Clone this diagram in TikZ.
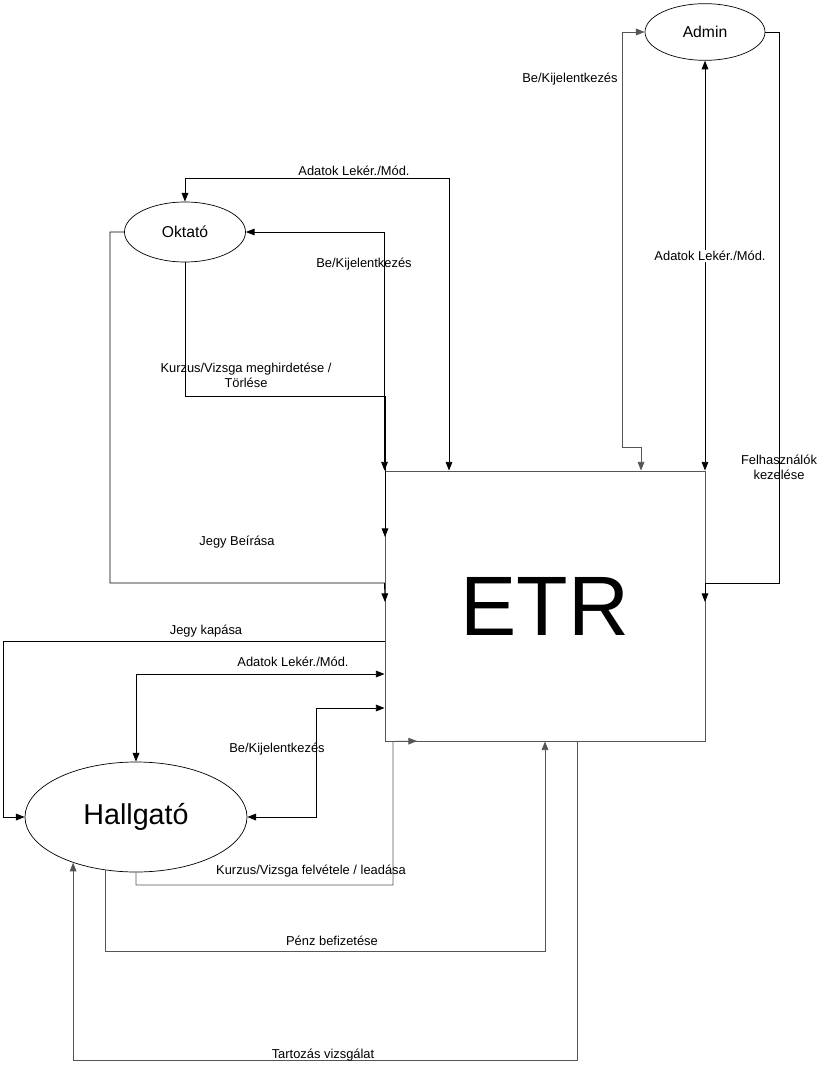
\documentclass[tikz,border=0pt]{standalone}
\usepackage{fontspec}
\setmainfont{Liberation Sans}
\usepackage{tikz}
\usetikzlibrary{shapes.geometric, arrows.meta, positioning, calc}
\definecolor{lineGray}{RGB}{85,85,85}
\tikzset{
  actorNode/.style={draw, ellipse, inner sep=0pt, line width=0.6pt},
  flowLine/.style={line width=0.75pt, -{Triangle[length=2.6mm, width=2mm]}},
  dualLine/.style={line width=0.75pt, {Triangle[length=2.6mm, width=2mm]}-{Triangle[length=2.6mm, width=2mm]}},
  flowLabel/.style={font=\fontsize{11}{12.5}\selectfont, inner sep=1pt, align=center}
}

\begin{document}
\begin{tikzpicture}[x=0.03cm, y=-0.03cm]
    \useasboundingbox (0,0) rectangle (835,1068);

    % System box and actors
    \node[draw=lineGray, line width=0.8pt, minimum width=9.6cm, minimum height=8.1cm, inner sep=0pt, font=\fontsize{72}{72}\selectfont] (etr) at (545,606) {ETR};
    \node[actorNode, minimum width=3.6cm, minimum height=1.7cm, font=\fontsize{13.4}{15}\selectfont] (admin) at (705,32) {Admin};
    \node[actorNode, minimum width=3.63cm, minimum height=1.8cm, font=\fontsize{13.4}{15}\selectfont] (oktato) at (185,232) {Oktató};
    \node[actorNode, minimum width=6.66cm, minimum height=3.3cm, font=\fontsize{24.5}{28}\selectfont] (hallgato) at (136,817) {Hallgató};

    % Bends and end points
    \coordinate (okAdat) at (449,178);
    \coordinate (okKurz) at (385,396);
    \coordinate (okKurzEnd) at (385,537);
    \coordinate (okJegy) at (110,583);
    \coordinate (okJegyEnd) at (385,602);
    \coordinate (adBe) at (622,447);
    \coordinate (adBe2) at (641,447);
    \coordinate (adFelh) at (779,583);
    \coordinate (adFelhEnd) at (705,602);
    \coordinate (haJegy) at (3,641);
    \coordinate (haAdat) at (0,674);
    \coordinate (haBe) at (316,708);
    \coordinate (haKurz) at (393,885);
    \coordinate (haKurzEnd) at (417,741);
    \coordinate (haPenz) at (545,951);
    \coordinate (haTart) at (577,1060);

    % Oktato flows
    \draw[dualLine] (oktato.north) |- (okAdat) -- (okAdat |- etr.north);
    \node[flowLabel] (okAdatLbl) at (354,171) {Adatok Lekér./Mód.};

    \draw[dualLine] (oktato.east) -| (etr.north west);
    \node[flowLabel] (okBeLbl) at (364,264) {Be/Kijelentkezés};

    \draw[flowLine] (oktato.south) |- (okKurz) -- (okKurzEnd);
    \node[flowLabel] (okKurzLbl) at (246,375) {Kurzus/Vizsga meghirdetése /\\Törlése};

    \draw[flowLine] (oktato.west) -| (okJegy) -- (okJegy -| etr.west) -- (okJegyEnd);
    \node[flowLabel] (okJegyLbl) at (237,542) {Jegy Beírása};

    % Admin flows
    \draw[dualLine, lineGray] (admin.west) -| (adBe) -- (adBe2) -- (adBe2 |- etr.north);
    \node[flowLabel, anchor=east] (adBeLbl) at (619,79) {Be/Kijelentkezés};

    \draw[dualLine] (admin.south) -- (admin.south |- etr.north);
    \node[flowLabel, fill=white] (adAdatLbl) at (710,256) {Adatok Lekér./Mód.};

    \draw[flowLine] (admin.east) -| (adFelh) -- (adFelh -| adFelhEnd) -- (adFelhEnd);
    \node[flowLabel] (adFelhLbl) at (779,467) {Felhasználók\\kezelése};

    % Hallgato flows
    \draw[flowLine] (etr.west |- haJegy) -- (haJegy) |- (hallgato.west);
    \node[flowLabel] (haJegyLbl) at (206,631) {Jegy kapása};

    \draw[dualLine] (hallgato.north) |- (etr.west |- haAdat);
    \node[flowLabel] (haAdatLbl) at (293,662) {Adatok Lekér./Mód.};

    \draw[dualLine] (hallgato.east) -| (haBe) -- (etr.west |- haBe);
    \node[flowLabel] (haBeLbl) at (277,749) {Be/Kijelentkezés};

    \draw[flowLine, lineGray] (hallgato.south) |- (haKurz) -- (haKurz |- etr.south) -- (haKurzEnd);
    \node[flowLabel] (haKurzLbl) at (311,871) {Kurzus/Vizsga felvétele / leadása};

    \draw[flowLine, lineGray] (hallgato.240) |- (haPenz) -- (etr.south);
    \node[flowLabel] (haPenzLbl) at (332,941) {Pénz befizetése};

    \draw[flowLine, lineGray] (etr.south -| haTart) -- (haTart) -| (hallgato.216);
    \node[flowLabel] (haTartLbl) at (323,1055) {Tartozás vizsgálat};
\end{tikzpicture}
\end{document}
